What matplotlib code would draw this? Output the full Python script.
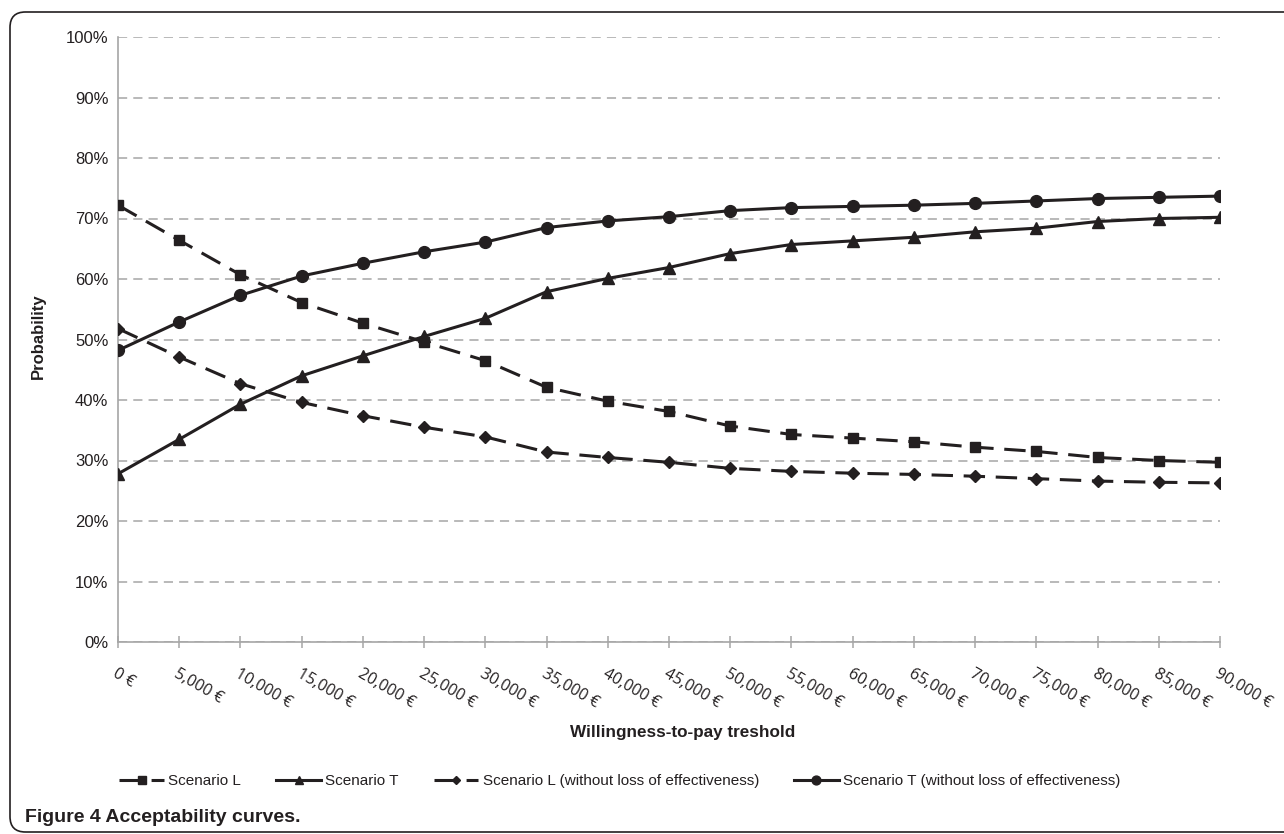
import matplotlib
matplotlib.use("Agg")
import matplotlib.pyplot as plt
from matplotlib.patches import FancyBboxPatch
from matplotlib.ticker import FuncFormatter

# WTP thresholds (euro)
thresholds = [0, 5000, 10000, 15000, 20000, 25000, 30000, 35000, 40000, 45000,
              50000, 55000, 60000, 65000, 70000, 75000, 80000, 85000, 90000]
tick_labels = ["0 €", "5,000 €", "10,000 €", "15,000 €", "20,000 €", "25,000 €",
               "30,000 €", "35,000 €", "40,000 €", "45,000 €", "50,000 €",
               "55,000 €", "60,000 €", "65,000 €", "70,000 €", "75,000 €",
               "80,000 €", "85,000 €", "90,000 €"]

# probabilities in %
scenario_l = [72.2, 66.4, 60.7, 56.1, 52.7, 49.6, 46.5, 42.1, 39.8, 38.1,
              35.7, 34.3, 33.7, 33.1, 32.2, 31.5, 30.5, 30.0, 29.7]
scenario_t = [27.8, 33.5, 39.3, 44.0, 47.3, 50.5, 53.5, 57.9, 60.1, 61.9,
              64.2, 65.7, 66.3, 66.9, 67.8, 68.4, 69.5, 70.0, 70.2]
scenario_l_nl = [51.8, 47.1, 42.7, 39.6, 37.4, 35.5, 33.9, 31.4, 30.5, 29.7,
                 28.7, 28.2, 27.9, 27.7, 27.4, 27.0, 26.6, 26.4, 26.3]
scenario_t_nl = [48.2, 52.9, 57.3, 60.5, 62.6, 64.5, 66.1, 68.5, 69.6, 70.3,
                 71.3, 71.8, 72.0, 72.2, 72.5, 72.9, 73.3, 73.5, 73.7]

ink = "#231f20"
grey = "#a6a6a6"
plt.rcParams['font.family'] = ['Liberation Sans', 'DejaVu Sans']

fig = plt.figure(figsize=(12.84, 8.34), dpi=100)
ax = fig.add_axes([118 / 1284, 1 - 642 / 834, (1220 - 118) / 1284, (642 - 37) / 834])

dash = (0, (7, 3.5))
ax.plot(thresholds, scenario_l, color=ink, lw=2.2, ls=dash, marker="s", ms=7.5,
        label="Scenario L", zorder=3)
ax.plot(thresholds, scenario_t, color=ink, lw=2.2, ls="-", marker="^", ms=8.5,
        label="Scenario T", zorder=3)
ax.plot(thresholds, scenario_l_nl, color=ink, lw=2.2, ls=dash, marker="D", ms=6,
        label="Scenario L (without loss of effectiveness)", zorder=3)
ax.plot(thresholds, scenario_t_nl, color=ink, lw=2.2, ls="-", marker="o", ms=8.5,
        label="Scenario T (without loss of effectiveness)", zorder=3)

ax.set_xlim(0, 90000)
ax.set_ylim(0, 100)
ax.set_yticks(range(0, 101, 10))
ax.yaxis.set_major_formatter(FuncFormatter(lambda v, p: f"{v:.0f}%"))
ax.tick_params(axis="y", length=0, pad=7, labelsize=12, colors=ink)
ax.grid(axis="y", color=grey, ls=(0, (6, 4)), lw=1.1)
ax.set_axisbelow(True)

ax.set_xticks(thresholds)
ax.set_xticklabels(tick_labels, rotation=-30, ha="left", va="top",
                   rotation_mode="anchor", fontsize=11.5, color=ink,
                   family=["Open Sans", "DejaVu Sans"])
ax.tick_params(axis="x", direction="inout", length=8, width=1.1, color=grey, pad=13)

for side in ("top", "right"):
    ax.spines[side].set_visible(False)
for side in ("left", "bottom"):
    ax.spines[side].set_color(grey)
    ax.spines[side].set_linewidth(1.2)

fig.text(38 / 1284, 1 - 336 / 834, "Probability", fontsize=12, fontweight="bold",
         rotation=90, ha="center", va="center", color=ink)
fig.text(683 / 1284, 1 - 732 / 834, "Willingness-to-pay treshold", fontsize=12.3,
         fontweight="bold", ha="center", va="center", color=ink)

leg = fig.legend(loc="center", bbox_to_anchor=(620 / 1284, 1 - 781 / 834), ncol=4,
                 frameon=False, fontsize=11, handlelength=2.9, columnspacing=2.3,
                 handletextpad=0.3, markerscale=0.75)
for t in leg.get_texts():
    t.set_color(ink)

fig.text(25 / 1284, 1 - 817 / 834, "Figure 4 Acceptability curves.", fontsize=14,
         fontweight="bold", ha="left", va="center", color=ink,
         family=["Liberation Sans Narrow", "Liberation Sans", "DejaVu Sans"])

# rounded frame round the figure
frame = FancyBboxPatch((10 / 1284, 2 / 834), 1.2, 1 - 14 / 834,
                       boxstyle="round,pad=0,rounding_size=0.012",
                       transform=fig.transFigure, fill=False, ec=ink, lw=1.2,
                       mutation_aspect=1284 / 834)
fig.patches.append(frame)

fig.savefig("out.png", dpi=100)
